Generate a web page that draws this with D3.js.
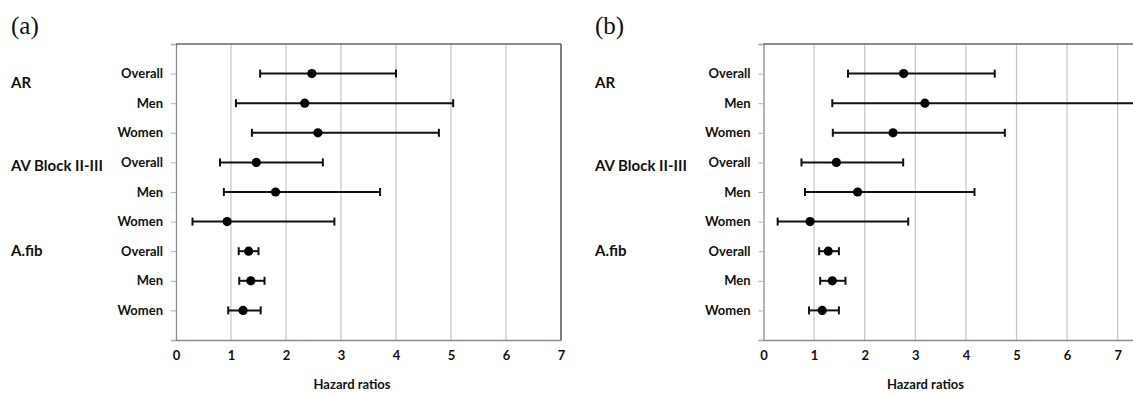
<!DOCTYPE html>
<html>
<head>
<meta charset="utf-8">
<script src="https://cdn.jsdelivr.net/npm/d3@7"></script>
<style>
  body { margin: 0; background: #fff; }
  svg { display: block; }
  text { font-family: Lato, "Open Sans", sans-serif; font-weight: bold; fill: #111; }
  .panel-label { font-family: "Liberation Serif", "DejaVu Serif", serif; font-weight: normal; font-size: 25px; }
</style>
</head>
<body>
<svg id="chart" width="1133" height="394"></svg>
<script>
// Rows, top to bottom
const groups = ['AR', 'AV Block II-III', 'A.fib'];
const rowLabels = ['Overall', 'Men', 'Women', 'Overall', 'Men', 'Women', 'Overall', 'Men', 'Women'];

// Panel (a) hazard ratios with 95% CI
const hrA = [2.47, 2.34, 2.58, 1.46, 1.81, 0.93, 1.32, 1.36, 1.22];
const loA = [1.53, 1.09, 1.38, 0.80, 0.87, 0.30, 1.14, 1.15, 0.95];
const hiA = [4.00, 5.04, 4.78, 2.67, 3.71, 2.88, 1.50, 1.61, 1.54];

// Panel (b) hazard ratios with 95% CI
const hrB = [2.77, 3.19, 2.56, 1.44, 1.86, 0.92, 1.28, 1.36, 1.16];
const loB = [1.67, 1.36, 1.37, 0.75, 0.82, 0.28, 1.10, 1.12, 0.90];
const hiB = [4.57, 7.90, 4.77, 2.76, 4.17, 2.86, 1.49, 1.62, 1.49];

const xTicks = [0, 1, 2, 3, 4, 5, 6, 7];
const xTitle = 'Hazard ratios';

const svg = d3.select('#chart');

function drawPanel(opts) {
    const { offset, left, right, xMax, label, hr, lo, hi } = opts;
    const top = 44, bottom = 340;

    const g = svg.append('g').attr('transform', `translate(${offset},0)`);

    const x = d3.scaleLinear().domain([0, xMax]).range([left, right]);
    const y = d3.scaleLinear().domain([0, 10]).range([top, bottom]);

    // Panel label
    g.append('text')
        .attr('class', 'panel-label')
        .attr('x', 11)
        .attr('y', 34)
        .text(label);

    // Vertical gridlines
    g.append('g')
        .selectAll('line')
        .data(xTicks.filter(d => d > 0))
        .join('line')
        .attr('x1', d => x(d)).attr('x2', d => x(d))
        .attr('y1', top).attr('y2', bottom)
        .attr('stroke', '#c4c4c4')
        .attr('stroke-width', 1.2);

    // Y axis with small tick marks
    const yAxis = d3.axisLeft(y)
        .tickValues(d3.range(0, 11))
        .tickSize(5)
        .tickFormat('');
    g.append('g')
        .attr('transform', `translate(${left},0)`)
        .call(yAxis)
        .call(a => a.select('.domain').attr('stroke', '#8c8c8c').attr('stroke-width', 1.3))
        .call(a => a.selectAll('.tick line').attr('stroke', '#b0b0b0'));

    // X axis (labels only)
    const xAxis = d3.axisBottom(x)
        .tickValues(xTicks)
        .tickFormat(d3.format('d'))
        .tickSize(0)
        .tickPadding(11);
    g.append('g')
        .attr('transform', `translate(0,${bottom})`)
        .call(xAxis)
        .call(a => a.select('.domain').attr('stroke', '#8c8c8c').attr('stroke-width', 1.3))
        .call(a => a.selectAll('.tick text')
            .style('font-size', '13px')
            .style('font-weight', 'bold')
            .style('font-family', 'Lato, sans-serif')
            .attr('fill', '#111'));

    // Top border and right border
    g.append('line')
        .attr('x1', left).attr('x2', right)
        .attr('y1', top).attr('y2', top)
        .attr('stroke', '#666').attr('stroke-width', 1.6);
    g.append('line')
        .attr('x1', right).attr('x2', right)
        .attr('y1', top).attr('y2', bottom)
        .attr('stroke', '#666').attr('stroke-width', 1.6);

    // Row labels
    g.append('g')
        .selectAll('text')
        .data(rowLabels)
        .join('text')
        .attr('x', left - 13)
        .attr('y', (d, i) => y(i + 1))
        .attr('dy', '0.35em')
        .attr('text-anchor', 'end')
        .style('font-size', '13px')
        .text(d => d);

    // Group labels
    const groupPos = [1.3, 4.1, 7.0];
    g.append('g')
        .selectAll('text')
        .data(groups)
        .join('text')
        .attr('x', 11)
        .attr('y', (d, i) => y(groupPos[i]))
        .attr('dy', '0.35em')
        .style('font-size', '15px')
        .text(d => d);

    // Error bars
    const rows = hr.map((d, i) => ({ hr: d, lo: lo[i], hi: hi[i], row: i + 1 }));
    const bars = g.append('g');
    bars.selectAll('line.ci')
        .data(rows)
        .join('line')
        .attr('class', 'ci')
        .attr('x1', d => x(d.lo)).attr('x2', d => x(d.hi))
        .attr('y1', d => y(d.row)).attr('y2', d => y(d.row))
        .attr('stroke', '#111').attr('stroke-width', 2);
    bars.selectAll('line.cap')
        .data(rows.flatMap(d => [{ v: d.lo, row: d.row }, { v: d.hi, row: d.row }]))
        .join('line')
        .attr('class', 'cap')
        .attr('x1', d => x(d.v)).attr('x2', d => x(d.v))
        .attr('y1', d => y(d.row) - 4).attr('y2', d => y(d.row) + 4)
        .attr('stroke', '#111').attr('stroke-width', 2);
    bars.selectAll('circle')
        .data(rows)
        .join('circle')
        .attr('cx', d => x(d.hr))
        .attr('cy', d => y(d.row))
        .attr('r', 4.6)
        .attr('fill', '#000');

    // Axis title
    g.append('text')
        .attr('x', x(3.2))
        .attr('y', 389)
        .attr('text-anchor', 'middle')
        .style('font-size', '13px')
        .text(xTitle);
}

drawPanel({ offset: 0, left: 176, right: 561, xMax: 7, label: '(a)', hr: hrA, lo: loA, hi: hiA });
drawPanel({ offset: 584, left: 179.5, right: 584.3, xMax: 8, label: '(b)', hr: hrB, lo: loB, hi: hiB });
</script>
</body>
</html>
